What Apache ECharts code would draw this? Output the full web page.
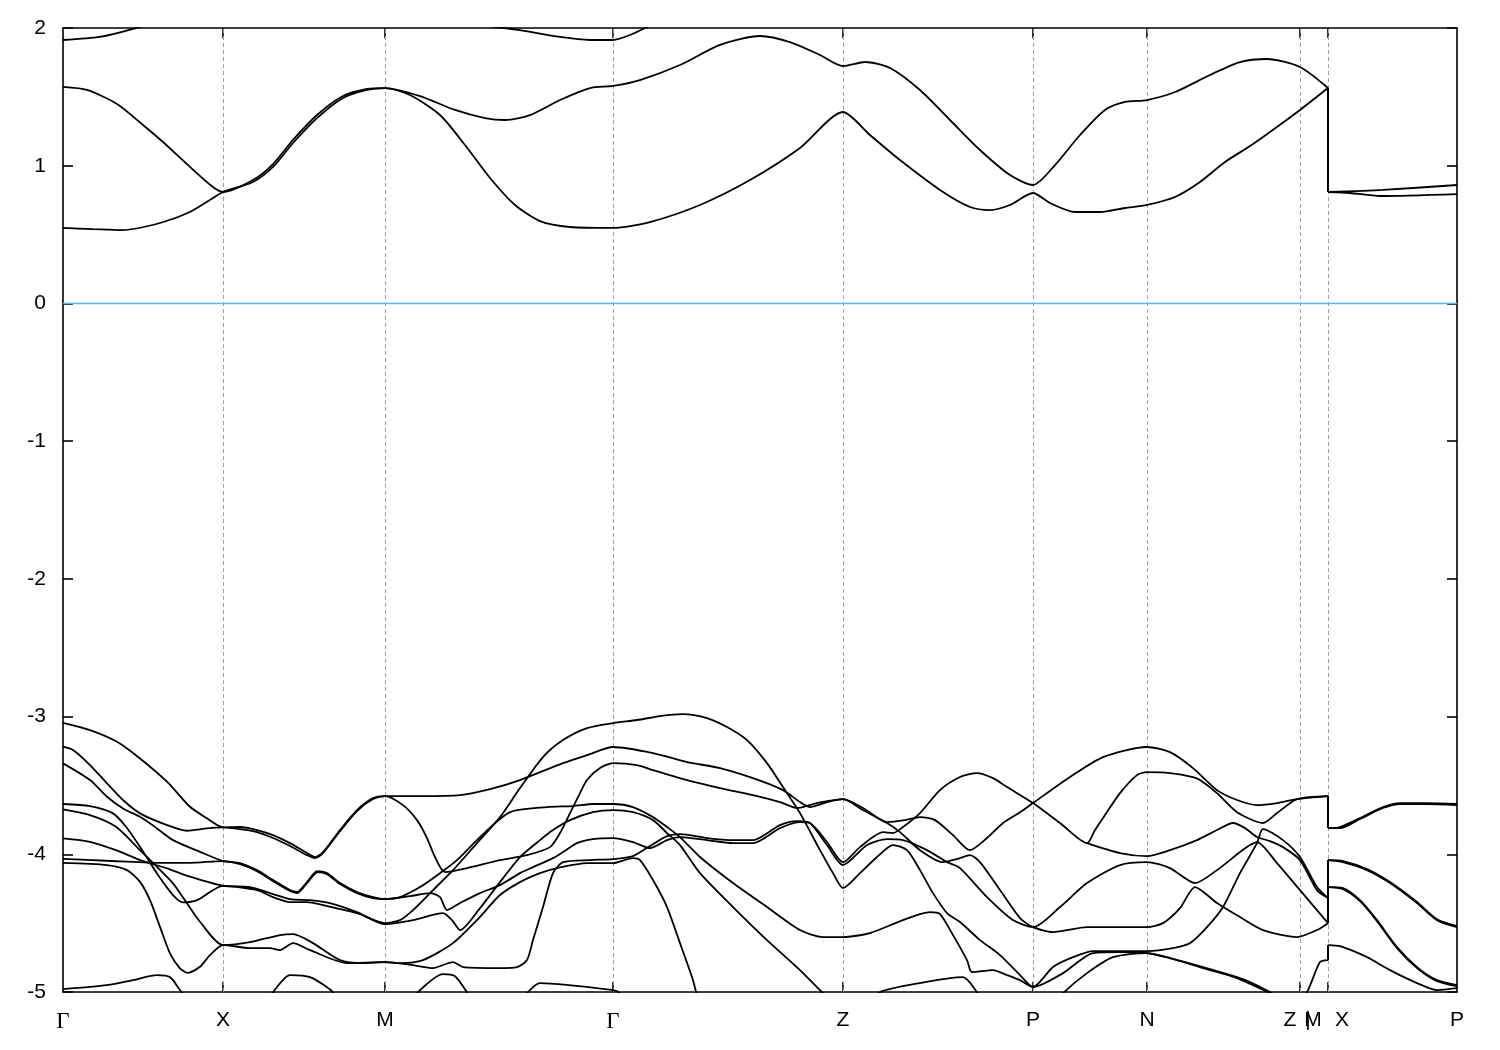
<!DOCTYPE html>
<html><head><meta charset="utf-8">
<script src="https://cdn.jsdelivr.net/npm/echarts@6/dist/echarts.min.js"></script>
<style>html,body{margin:0;padding:0;background:#fff}#c{width:1500px;height:1050px}</style>
</head><body><div id="c"></div>
<script>
// k-path positions (path distance units) and labels
const kInner = [160,322,550,780,970,1084,1237,1265];
const kLabelPos = [0,160,322,550,780,970,1084,1227,1245,1250,1279,1394];
const kLabels = ['Γ','X','M','Γ','Z','P','N','Z','|','M','X','P'];
const yTickLabels = ['-5','-4','-3','-2','-1','0','1','2'];

// conduction bands
const C1 = [[0,0.548],[30,0.540],[60,0.533],[97,0.584],[127,0.664],[150,0.765],[160,0.809],[190,0.882],[210,0.991],[230,1.165],[254,1.346],[280,1.492],[304,1.550],[322,1.564],[347,1.513],[377,1.368],[402,1.150],[427,0.911],[452,0.715],[477,0.598],[507,0.555],[550,0.548],[587,0.591],[637,0.715],[687,0.896],[737,1.129],[780,1.390],[807,1.223],[837,1.041],[877,0.824],[907,0.700],[927,0.678],[947,0.715],[970,0.802],[987,0.729],[1012,0.664],[1037,0.664],[1062,0.693],[1084,0.715],[1112,0.773],[1137,0.882],[1162,1.027],[1187,1.143],[1207,1.245],[1237,1.405],[1265,1.564],[1265,0.809],[1287,0.802],[1317,0.780],[1394,0.794]];
const C2 = [[0,1.572],[24,1.550],[54,1.448],[80,1.296],[100,1.172],[127,0.991],[150,0.845],[160,0.809],[190,0.896],[210,1.012],[230,1.187],[254,1.368],[280,1.506],[304,1.557],[322,1.564],[357,1.506],[392,1.405],[422,1.346],[442,1.332],[467,1.368],[497,1.477],[527,1.564],[550,1.579],[577,1.622],[617,1.731],[657,1.877],[697,1.942],[727,1.898],[757,1.804],[780,1.724],[802,1.753],[827,1.710],[857,1.550],[887,1.332],[917,1.114],[947,0.932],[970,0.860],[992,1.005],[1017,1.223],[1042,1.405],[1062,1.463],[1084,1.477],[1112,1.535],[1147,1.659],[1177,1.753],[1204,1.775],[1237,1.717],[1265,1.564],[1265,0.809],[1320,0.824],[1394,0.860]];
const C3 = [[0,1.913],[37,1.935],[70,1.993],[97,2.058],[187,2.203],[322,2.348],[397,2.130],[417,2.029],[457,1.985],[497,1.935],[527,1.913],[550,1.913],[567,1.949],[582,2.000],[617,2.130],[780,2.348]];

// valence bands
const V1 = [[0,-3.045],[27,-3.098],[54,-3.183],[77,-3.304],[104,-3.473],[127,-3.655],[144,-3.739],[160,-3.804],[177,-3.802],[194,-3.824],[210,-3.861],[227,-3.919],[244,-3.991],[252,-4.020],[260,-3.984],[277,-3.824],[294,-3.679],[310,-3.592],[322,-3.577],[357,-3.577],[397,-3.570],[427,-3.527],[457,-3.461],[500,-3.338],[524,-3.280],[550,-3.221],[590,-3.265],[624,-3.330],[657,-3.374],[690,-3.447],[720,-3.534],[737,-3.621],[747,-3.657],[764,-3.621],[780,-3.599],[800,-3.664],[824,-3.766],[842,-3.752],[857,-3.730],[872,-3.752],[890,-3.861],[907,-3.970],[924,-3.882],[940,-3.773],[957,-3.694],[970,-3.628],[1007,-3.439],[1040,-3.294],[1084,-3.221],[1107,-3.258],[1130,-3.374],[1154,-3.534],[1174,-3.606],[1194,-3.643],[1214,-3.628],[1234,-3.599],[1265,-3.577],[1265,-3.810],[1277,-3.802],[1297,-3.737],[1320,-3.657],[1337,-3.628],[1364,-3.628],[1394,-3.635]];
const V2 = [[0,-3.219],[10,-3.243],[27,-3.352],[44,-3.485],[60,-3.606],[77,-3.703],[104,-3.788],[124,-3.829],[144,-3.812],[160,-3.804],[177,-3.817],[194,-3.839],[210,-3.882],[227,-3.940],[244,-4.006],[252,-4.028],[260,-3.991],[277,-3.832],[294,-3.686],[310,-3.599],[322,-3.577],[340,-3.643],[354,-3.752],[364,-3.882],[372,-4.020],[382,-4.129],[404,-4.100],[437,-4.042],[464,-4.006],[487,-3.948],[497,-3.846],[507,-3.701],[515,-3.585],[524,-3.461],[537,-3.374],[550,-3.338],[574,-3.352],[590,-3.389],[624,-3.461],[657,-3.519],[690,-3.570],[717,-3.621],[734,-3.664],[754,-3.628],[780,-3.599],[800,-3.679],[824,-3.773],[837,-3.839],[857,-3.970],[880,-4.057],[897,-4.028],[907,-4.006],[917,-4.057],[937,-4.260],[957,-4.463],[970,-4.529],[990,-4.565],[1024,-4.529],[1084,-4.529],[1100,-4.500],[1117,-4.391],[1132,-4.238],[1154,-4.354],[1177,-4.456],[1200,-4.550],[1234,-4.601],[1254,-4.550],[1265,-4.500],[1265,-4.238],[1280,-4.245],[1297,-4.333],[1314,-4.478],[1334,-4.674],[1354,-4.819],[1374,-4.914],[1394,-4.950]];
const V3 = [[0,-3.635],[27,-3.650],[50,-3.703],[63,-3.800],[77,-3.946],[94,-4.139],[110,-4.296],[120,-4.349],[134,-4.333],[160,-4.229],[194,-4.260],[210,-4.311],[227,-4.347],[244,-4.347],[260,-4.369],[294,-4.427],[322,-4.500],[337,-4.478],[350,-4.405],[370,-4.260],[390,-4.115],[414,-3.919],[437,-3.730],[457,-3.519],[480,-3.294],[500,-3.171],[524,-3.084],[550,-3.047],[574,-3.025],[597,-2.996],[620,-2.982],[644,-3.011],[664,-3.076],[684,-3.171],[704,-3.338],[720,-3.512],[737,-3.701],[757,-3.970],[770,-4.137],[780,-4.245],[797,-4.137],[814,-4.020],[830,-3.933],[844,-3.970],[857,-4.115],[870,-4.282],[884,-4.427],[897,-4.492],[917,-4.623],[937,-4.732],[957,-4.877],[970,-4.964],[990,-4.819],[1010,-4.747],[1030,-4.703],[1084,-4.703],[1110,-4.681],[1127,-4.645],[1144,-4.529],[1160,-4.383],[1177,-4.137],[1194,-3.919],[1200,-3.817],[1220,-3.897],[1237,-4.020],[1254,-4.238],[1265,-4.318],[1265,-4.238],[1280,-4.253],[1297,-4.340],[1314,-4.485],[1334,-4.681],[1354,-4.826],[1374,-4.921],[1394,-4.957]];
const V4 = [[0,-3.340],[27,-3.461],[44,-3.582],[60,-3.667],[77,-3.728],[94,-3.812],[110,-3.897],[137,-3.982],[160,-4.049],[177,-4.064],[194,-4.115],[210,-4.187],[227,-4.260],[234,-4.274],[244,-4.202],[254,-4.122],[264,-4.137],[277,-4.209],[294,-4.274],[310,-4.311],[322,-4.325],[337,-4.311],[357,-4.238],[377,-4.137],[394,-4.042],[417,-3.875],[447,-3.694],[484,-3.657],[510,-3.650],[530,-3.635],[550,-3.635],[570,-3.657],[590,-3.730],[604,-3.802],[617,-3.875],[637,-4.020],[670,-4.209],[704,-4.383],[737,-4.550],[760,-4.601],[780,-4.601],[807,-4.572],[840,-4.478],[867,-4.420],[877,-4.434],[890,-4.587],[904,-4.768],[909,-4.856],[930,-4.841],[944,-4.877],[957,-4.914],[970,-4.964],[1000,-4.863],[1030,-4.717],[1057,-4.710],[1084,-4.717],[1107,-4.754],[1140,-4.819],[1174,-4.892],[1187,-4.928],[1207,-5.001],[1237,-5.131]];
const V5 = [[0,-3.674],[27,-3.715],[53,-3.800],[77,-3.970],[94,-4.091],[110,-4.211],[124,-4.356],[137,-4.490],[160,-4.659],[187,-4.638],[217,-4.587],[230,-4.580],[250,-4.645],[277,-4.768],[300,-4.790],[322,-4.783],[350,-4.805],[370,-4.826],[390,-4.783],[400,-4.819],[437,-4.826],[454,-4.819],[464,-4.768],[470,-4.623],[480,-4.383],[490,-4.137],[500,-4.057],[527,-4.042],[550,-4.035],[570,-4.013],[587,-3.940],[604,-3.868],[617,-3.853],[644,-3.882],[670,-3.897],[690,-3.897],[717,-3.788],[734,-3.759],[747,-3.773],[764,-3.933],[780,-4.078],[804,-3.933],[824,-3.890],[840,-3.897],[864,-3.970],[884,-4.057],[897,-4.100],[924,-4.311],[950,-4.478],[970,-4.529],[997,-4.383],[1024,-4.209],[1057,-4.078],[1084,-4.057],[1107,-4.100],[1132,-4.209],[1154,-4.115],[1177,-3.984],[1187,-3.933],[1194,-3.911],[1214,-4.064],[1237,-4.260],[1254,-4.405],[1265,-4.500],[1265,-4.042],[1280,-4.057],[1304,-4.115],[1327,-4.209],[1354,-4.354],[1374,-4.478],[1394,-4.529]];
const V6 = [[0,-3.884],[27,-3.909],[53,-3.970],[77,-4.042],[104,-4.102],[127,-4.163],[160,-4.229],[187,-4.238],[207,-4.282],[227,-4.325],[247,-4.333],[267,-4.354],[294,-4.420],[322,-4.507],[350,-4.478],[380,-4.427],[389,-4.478],[397,-4.550],[417,-4.391],[437,-4.202],[457,-4.020],[477,-3.897],[490,-3.824],[507,-3.752],[530,-3.694],[550,-3.679],[570,-3.694],[590,-3.752],[604,-3.846],[617,-3.933],[637,-4.137],[670,-4.383],[704,-4.623],[737,-4.841],[760,-5.008],[780,-5.131],[985,-5.131],[1000,-5.008],[1024,-4.863],[1050,-4.747],[1084,-4.717],[1107,-4.754],[1140,-4.826],[1174,-4.899],[1207,-5.008],[1232,-5.095],[1244,-5.001],[1257,-4.783],[1265,-4.768],[1265,-4.659],[1277,-4.667],[1304,-4.747],[1327,-4.841],[1354,-4.935],[1374,-4.986],[1394,-4.972]];
const V7 = [[0,-4.033],[44,-4.047],[94,-4.062],[127,-4.062],[160,-4.049],[177,-4.071],[194,-4.122],[210,-4.195],[227,-4.267],[234,-4.282],[244,-4.209],[255,-4.129],[264,-4.144],[277,-4.216],[294,-4.282],[310,-4.318],[322,-4.325],[347,-4.304],[367,-4.282],[377,-4.311],[384,-4.405],[397,-4.354],[417,-4.282],[437,-4.224],[457,-4.137],[470,-4.093],[490,-4.028],[500,-3.984],[514,-3.919],[530,-3.890],[550,-3.882],[570,-3.911],[587,-3.955],[604,-3.897],[617,-3.875],[644,-3.897],[670,-3.919],[690,-3.919],[717,-3.810],[737,-3.766],[747,-3.773],[764,-3.911],[780,-4.057],[797,-3.948],[820,-3.839],[830,-3.846],[840,-3.802],[857,-3.701],[877,-3.534],[897,-3.439],[914,-3.410],[930,-3.447],[944,-3.512],[970,-3.628],[997,-3.773],[1024,-3.919],[1032,-3.824],[1040,-3.737],[1057,-3.556],[1074,-3.425],[1084,-3.403],[1107,-3.410],[1130,-3.439],[1137,-3.461],[1154,-3.556],[1174,-3.694],[1200,-3.773],[1214,-3.701],[1234,-3.599],[1265,-3.577],[1265,-3.810],[1277,-3.810],[1297,-3.744],[1320,-3.664],[1337,-3.635],[1364,-3.635],[1394,-3.643]];
const R3 = [[1024,-3.919],[1057,-3.991],[1084,-4.013],[1107,-3.970],[1134,-3.897],[1154,-3.824],[1170,-3.773],[1182,-3.810],[1194,-3.875],[1207,-3.904],[1220,-3.948],[1237,-4.042],[1254,-4.260],[1265,-4.318],[1265,-4.042],[1280,-4.049],[1304,-4.107],[1327,-4.202],[1354,-4.347],[1374,-4.471],[1394,-4.521]];
const V8 = [[0,-4.062],[44,-4.078],[64,-4.115],[77,-4.200],[87,-4.333],[97,-4.527],[107,-4.720],[117,-4.828],[125,-4.861],[137,-4.817],[147,-4.732],[160,-4.659],[187,-4.681],[207,-4.681],[217,-4.696],[230,-4.645],[247,-4.696],[284,-4.790],[322,-4.783],[337,-4.790],[360,-4.768],[390,-4.645],[414,-4.478],[437,-4.296],[457,-4.202],[477,-4.137],[494,-4.100],[524,-4.064],[550,-4.064],[570,-4.028],[577,-4.042],[590,-4.187],[604,-4.383],[617,-4.645],[630,-4.914],[637,-5.095],[647,-5.168],[797,-5.131],[817,-5.001],[857,-4.935],[900,-4.892],[914,-5.001],[927,-5.131]];
const V9 = [[0,-4.979],[44,-4.950],[70,-4.914],[94,-4.877],[107,-4.892],[117,-4.986],[125,-5.06],[132,-5.131],[197,-5.131],[210,-5.001],[227,-4.877],[247,-4.892],[270,-5.001],[282,-5.131],[342,-5.131],[355,-5.001],[380,-4.870],[392,-4.885],[404,-5.001],[417,-5.131],[452,-5.131],[464,-5.008],[477,-4.935],[550,-4.986],[557,-5.008],[572,-5.131]];

const bands = [C1,C2,C3,V1,V2,V3,V4,V5,V6,V7,R3,V8,V9];

const chart = echarts.init(document.getElementById('c'), null, {renderer:'canvas'});
const frame = {show:true, onZero:false, lineStyle:{color:'#000', width:1.6}};
const tickStyle = {show:true, inside:true, length:10, lineStyle:{color:'#000', width:1.6}};
const labelFont = {color:'#000', fontSize:21, fontFamily:'Liberation Sans, Arial, sans-serif'};
const bandStyle = {color:'#000', width:1.8};

// split each band at its discontinuity (repeated x): smooth pieces + straight vertical connector
const series = [];
bands.forEach(b => {
  let cut = -1;
  for (let i = 1; i < b.length; i++) { if (b[i][0] === b[i-1][0]) { cut = i; break; } }
  const pieces = cut < 0 ? [b] : [b.slice(0, cut), b.slice(cut)];
  pieces.forEach(p => series.push({type:'line', data:p, showSymbol:false, symbol:'none', smooth:0.25,
    clip:true, silent:true, z:3, lineStyle:bandStyle}));
  if (cut > 0) series.push({type:'line', data:[b[cut-1], b[cut]], showSymbol:false, symbol:'none',
    smooth:false, clip:true, silent:true, z:5, lineStyle:{color:'#000', width:2}});
});
series.push({
  type:'line', data:[], silent:true, z:1,
  markLine:{silent:true, symbol:['none','none'], label:{show:false}, animation:false, z:1,
    data: kInner.map(x => ({xAxis:x, lineStyle:{color:'#a0a0a0', type:[4,3], width:1}}))
      .concat([{yAxis:0, lineStyle:{color:'#56b4e9', type:'solid', width:1.4}}])}
});

chart.setOption({
  animation:false,
  backgroundColor:'#fff',
  grid:{left:63, right:43, top:28, bottom:58, containLabel:false},
  xAxis:[{
    type:'value', min:0, max:1394, position:'bottom',
    axisLine:frame, splitLine:{show:false},
    axisTick:Object.assign({customValues:kInner}, tickStyle),
    axisLabel:Object.assign({
      customValues:kLabelPos, margin:18,
      formatter:function(v){const i=kLabelPos.indexOf(v); if(i<0) return ''; const t=kLabels[i]; return t==='Γ'?'{g|Γ}':t;},
      rich:{g:{fontFamily:'Liberation Serif, Times New Roman, serif', fontSize:23, color:'#000'}}
    }, labelFont)
  },{
    type:'value', min:0, max:1394, position:'top',
    axisLine:frame, splitLine:{show:false},
    axisTick:Object.assign({customValues:kInner}, tickStyle),
    axisLabel:{show:false}
  }],
  yAxis:[{
    type:'value', min:-5, max:2, interval:1, position:'left',
    axisLine:frame, splitLine:{show:false}, axisTick:tickStyle,
    axisLabel:Object.assign({margin:17, formatter:function(v){return yTickLabels[Math.round(v)+5];}}, labelFont)
  },{
    type:'value', min:-5, max:2, interval:1, position:'right',
    axisLine:frame, splitLine:{show:false}, axisTick:tickStyle,
    axisLabel:{show:false}
  }],
  series: series
});
</script></body></html>
